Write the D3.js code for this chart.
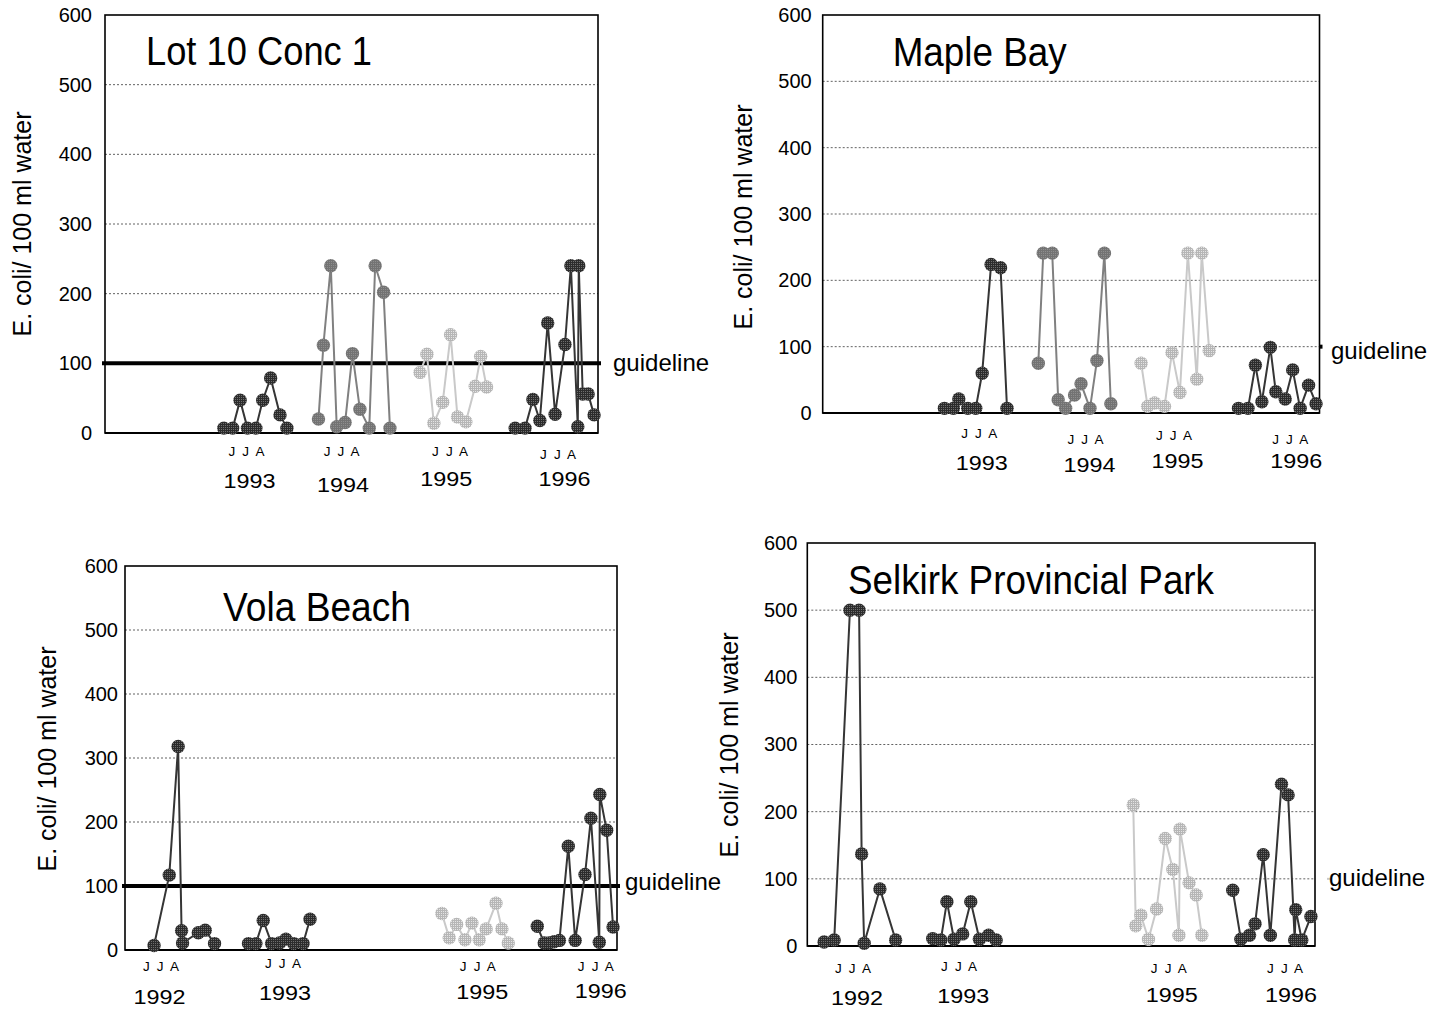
<!DOCTYPE html>
<html>
<head>
<meta charset="utf-8">
<script src="https://cdn.jsdelivr.net/npm/d3@7"></script>
<style>
  body { margin: 0; background: #fff; }
  svg { display: block; }
  text { font-family: "Liberation Sans", Arial, Helvetica, sans-serif; fill: #000; }
</style>
</head>
<body>
<svg id="chart" width="1440" height="1011"></svg>
<script>
// E. coli counts (per 100 ml water) at four beaches, June–August sampling seasons.
// Sampling positions run along each panel's compressed time axis (0–100).

const yTicks = [0, 100, 200, 300, 400, 500, 600];
const guidelineValue = 100;
const monthLabel = "J J A";
const yAxisTitle = "E. coli/ 100 ml water";

// Lot 10 Conc 1
const lot10Years = [1993, 1994, 1995, 1996];
const lot10Pos = [
  [24.1, 25.9, 27.4, 28.9, 30.6, 32.0, 33.6, 35.5, 36.9],
  [43.3, 44.3, 45.8, 47.0, 48.7, 50.2, 51.7, 53.6, 54.8, 56.5, 57.8],
  [63.9, 65.3, 66.7, 68.5, 70.1, 71.5, 73.2, 75.1, 76.2, 77.4],
  [83.2, 85.2, 86.8, 88.2, 89.8, 91.3, 93.3, 94.5, 95.9, 96.1, 96.9, 98.0, 99.2]
];
const lot10Counts = [
  [7, 7, 47, 7, 7, 47, 79, 26, 7],
  [20, 126, 240, 9, 15, 114, 34, 7, 240, 202, 7],
  [87, 113, 14, 44, 141, 23, 16, 67, 110, 66],
  [7, 7, 48, 18, 158, 27, 127, 240, 9, 240, 56, 56, 26]
];

// Maple Bay
const mapleYears = [1993, 1994, 1995, 1996];
const maplePos = [
  [24.5, 26.3, 27.4, 29.2, 30.8, 32.1, 33.9, 35.8, 37.1],
  [43.4, 44.4, 46.2, 47.4, 48.9, 50.7, 52.0, 53.8, 55.2, 56.7, 58.0],
  [64.1, 65.4, 66.8, 68.8, 70.3, 71.9, 73.5, 75.3, 76.3, 77.8],
  [83.7, 85.6, 87.1, 88.4, 90.1, 91.2, 93.1, 94.6, 96.1, 97.8, 99.3]
];
const mapleCounts = [
  [7, 7, 21, 7, 7, 60, 224, 219, 7],
  [75, 241, 241, 20, 7, 27, 44, 7, 79, 241, 14],
  [75, 10, 15, 10, 91, 31, 241, 51, 241, 94],
  [7, 7, 72, 17, 99, 32, 21, 65, 7, 42, 14]
];

// Vola Beach
const volaYears = [1992, 1993, 1995, 1996];
const volaPos = [
  [5.9, 9.0, 10.8, 11.5, 11.7, 14.9, 16.3, 18.2],
  [25.1, 26.6, 28.1, 29.8, 31.4, 32.7, 34.3, 36.2, 37.6],
  [64.4, 65.9, 67.4, 69.1, 70.5, 72.0, 73.4, 75.4, 76.6, 77.9],
  [83.8, 85.2, 86.2, 87.2, 88.3, 90.1, 91.5, 93.5, 94.7, 96.4, 96.5, 97.9, 99.2]
];
const volaCounts = [
  [7, 117, 318, 30, 11, 27, 31, 10],
  [10, 10, 46, 10, 11, 17, 10, 10, 48],
  [57, 19, 40, 16, 42, 16, 33, 73, 33, 11],
  [37, 11, 11, 13, 15, 162, 15, 118, 206, 12, 243, 187, 36]
];

// Selkirk Provincial Park
const selkirkYears = [1992, 1993, 1995, 1996];
const selkirkPos = [
  [3.3, 5.3, 8.4, 10.2, 10.7, 11.2, 14.3, 17.4],
  [24.7, 26.3, 27.5, 28.9, 30.6, 32.2, 33.9, 35.7, 37.2],
  [64.2, 64.7, 65.7, 67.2, 68.8, 70.5, 72.0, 73.2, 73.4, 75.2, 76.6, 77.7],
  [83.8, 85.4, 87.1, 88.2, 89.8, 91.2, 93.4, 94.7, 96.0, 96.2, 97.4, 99.2]
];
const selkirkCounts = [
  [6, 9, 500, 500, 137, 4, 85, 9],
  [11, 9, 66, 10, 18, 66, 10, 16, 9],
  [210, 30, 46, 10, 55, 160, 114, 16, 174, 94, 76, 16],
  [83, 10, 16, 33, 136, 16, 241, 225, 9, 54, 9, 44]
];

// ---- styling ----
const shadeOfYear = { 1992: "dark", 1993: "dark", 1994: "medium", 1995: "light", 1996: "dark" };
const shades = {
  dark:   { line: "#353535", base: "#2c2c2c", dot: "#6e6e6e" },
  medium: { line: "#808080", base: "#737373", dot: "#8e8e8e" },
  light:  { line: "#c9c9c9", base: "#b6b6b6", dot: "#e4e4e4" }
};

const svg = d3.select("#chart");
svg.append("rect").attr("width", 1440).attr("height", 1011).attr("fill", "#fff");

// stippled fills for the markers
const defs = svg.append("defs");
Object.entries(shades).forEach(([name, s]) => {
  const p = defs.append("pattern")
    .attr("id", "fill-" + name)
    .attr("patternUnits", "userSpaceOnUse")
    .attr("width", 2).attr("height", 2);
  p.append("rect").attr("width", 2).attr("height", 2).attr("fill", s.base);
  p.append("rect").attr("x", 1).attr("y", 1).attr("width", 1).attr("height", 1).attr("fill", s.dot);
});

const panels = [
  {
    title: "Lot 10 Conc 1", years: lot10Years, pos: lot10Pos, counts: lot10Counts,
    box: { left: 105, right: 598, top: 15, bottom: 433 },
    tickGap: 13, thickGuide: true, guideMark: null,
    titleAt: [146, 65, 226], yTitleAt: [31, 224], guideLabelAt: [613, 371],
    monthAt: [[28.7, 23], [48.0, 23], [70.0, 23], [91.9, 26]],
    yearAt: [[29.3, 55], [48.3, 59], [69.2, 53], [93.2, 53]]
  },
  {
    title: "Maple Bay", years: mapleYears, pos: maplePos, counts: mapleCounts,
    box: { left: 822.7, right: 1319.5, top: 15, bottom: 413 },
    tickGap: 11, thickGuide: false, guideMark: "#000",
    titleAt: [892.7, 66, 174], yTitleAt: [752, 217], guideLabelAt: [1331, 359],
    monthAt: [[31.5, 25], [52.9, 31], [70.7, 27], [94.1, 31]],
    yearAt: [[32.0, 57], [53.7, 59], [71.4, 55], [95.3, 55]]
  },
  {
    title: "Vola Beach", years: volaYears, pos: volaPos, counts: volaCounts,
    box: { left: 125, right: 617, top: 566, bottom: 950 },
    tickGap: 7, thickGuide: true, guideMark: null,
    titleAt: [223, 621, 188], yTitleAt: [56, 759], guideLabelAt: [625, 890],
    monthAt: [[7.3, 21], [32.1, 18], [71.7, 21], [95.7, 21]],
    yearAt: [[7.0, 54], [32.5, 50], [72.6, 49], [96.7, 48]]
  },
  {
    title: "Selkirk Provincial Park", years: selkirkYears, pos: selkirkPos, counts: selkirkCounts,
    box: { left: 807.3, right: 1315, top: 543, bottom: 946 },
    tickGap: 10, thickGuide: false, guideMark: "#c8c8c8",
    titleAt: [848, 594, 366], yTitleAt: [738, 745], guideLabelAt: [1329, 886],
    monthAt: [[9.0, 27], [29.9, 25], [71.2, 27], [94.1, 27]],
    yearAt: [[9.8, 59], [30.7, 57], [71.8, 56], [95.3, 56]]
  }
];

panels.forEach(drawPanel);

function drawPanel(p) {
  const b = p.box;
  const x = d3.scaleLinear().domain([0, 100]).range([b.left, b.right]);
  const y = d3.scaleLinear().domain([0, 600]).range([b.bottom, b.top]);
  const g = svg.append("g");

  // dotted gridlines
  const gridVals = yTicks.filter(v => v > 0 && v < 600 && !(p.thickGuide && v === guidelineValue));
  g.append("g").selectAll("line").data(gridVals).join("line")
    .attr("x1", b.left).attr("x2", b.right)
    .attr("y1", d => y(d)).attr("y2", d => y(d))
    .attr("stroke", "#505050").attr("stroke-width", 0.9)
    .attr("stroke-dasharray", "2,2");

  // frame
  g.append("rect")
    .attr("x", b.left).attr("y", b.top)
    .attr("width", b.right - b.left).attr("height", b.bottom - b.top)
    .attr("fill", "none").attr("stroke", "#000").attr("stroke-width", 1.6);
  g.append("line")
    .attr("x1", b.left).attr("x2", b.right)
    .attr("y1", b.bottom).attr("y2", b.bottom)
    .attr("stroke", "#000").attr("stroke-width", 2);

  // y axis labels
  const axis = d3.axisLeft(y).tickValues(yTicks).tickSize(0).tickPadding(p.tickGap);
  const ax = g.append("g").attr("transform", `translate(${b.left},0)`).call(axis);
  ax.select(".domain").remove();
  ax.selectAll("text")
    .style("font-family", '"Liberation Sans", Arial, Helvetica, sans-serif')
    .style("font-size", "20px").attr("fill", "#000");

  // guideline
  if (p.thickGuide) {
    g.append("line")
      .attr("x1", b.left - 3).attr("x2", b.right + 3)
      .attr("y1", y(guidelineValue)).attr("y2", y(guidelineValue))
      .attr("stroke", "#000").attr("stroke-width", 4);
  }
  if (p.guideMark) {
    g.append("line")
      .attr("x1", p.guideMark === "#000" ? b.right : b.right + 12)
      .attr("x2", p.guideMark === "#000" ? b.right + 3 : b.right + 15)
      .attr("y1", y(guidelineValue)).attr("y2", y(guidelineValue))
      .attr("stroke", p.guideMark).attr("stroke-width", p.guideMark === "#000" ? 4 : 2);
  }
  g.append("text")
    .attr("x", p.guideLabelAt[0]).attr("y", p.guideLabelAt[1])
    .style("font-size", "24px").text("guideline");

  // title
  g.append("text")
    .attr("x", p.titleAt[0]).attr("y", p.titleAt[1])
    .attr("textLength", p.titleAt[2]).attr("lengthAdjust", "spacingAndGlyphs")
    .style("font-size", "41px").text(p.title);

  // y axis title
  g.append("text")
    .attr("transform", `translate(${p.yTitleAt[0]},${p.yTitleAt[1]}) rotate(-90)`)
    .attr("text-anchor", "middle")
    .style("font-size", "25px").text(yAxisTitle);

  // season labels
  p.years.forEach((yr, i) => {
    g.append("text")
      .attr("x", x(p.monthAt[i][0]) - 18).attr("y", b.bottom + p.monthAt[i][1])
      .attr("textLength", 36).attr("lengthAdjust", "spacing")
      .style("font-size", "13.5px")
      .text(monthLabel);
    g.append("text")
      .attr("x", x(p.yearAt[i][0]) - 26).attr("y", b.bottom + p.yearAt[i][1])
      .attr("textLength", 52).attr("lengthAdjust", "spacingAndGlyphs")
      .style("font-size", "20.5px")
      .text(yr);
  });

  // series: one line + markers per sampling season
  const line = d3.line().x(d => x(d.t)).y(d => y(d.v));
  p.years.forEach((yr, i) => {
    const pts = p.pos[i].map((t, k) => ({ t, v: p.counts[i][k] }));
    const shade = shadeOfYear[yr];
    g.append("path").datum(pts)
      .attr("d", line)
      .attr("fill", "none")
      .attr("stroke", shades[shade].line)
      .attr("stroke-width", 2)
      .attr("stroke-linejoin", "round");
    g.append("g").selectAll("circle").data(pts).join("circle")
      .attr("cx", d => x(d.t)).attr("cy", d => y(d.v))
      .attr("r", 6.7)
      .attr("fill", `url(#fill-${shade})`);
  });
}
</script>
</body>
</html>
